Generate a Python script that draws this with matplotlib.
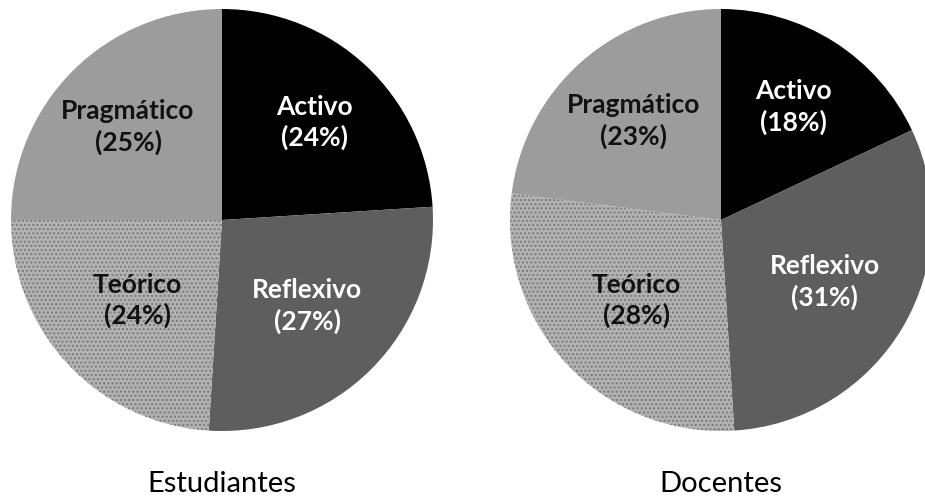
import numpy as np
import matplotlib
matplotlib.use('Agg')
import matplotlib.pyplot as plt

categories = ['Activo', 'Reflexivo', 'Teórico', 'Pragmático']
estudiantes = [24, 27, 24, 25]
docentes = [18, 31, 28, 23]
titles = ['Estudiantes', 'Docentes']

colors = ['#000000', '#5e5e5e', '#b2b2b2', '#9c9c9c']
text_colors = ['white', 'white', '#111111', '#111111']
label_r = [0.64, 0.57, 0.55, 0.63]

W, H = 925, 502
fig = plt.figure(figsize=(W / 100, H / 100), dpi=100)

def draw_pie(cx, cy, r, values, title):
    ax = fig.add_axes([(cx - r) / W, 1 - (cy + r) / H, 2 * r / W, 2 * r / H])
    wedges, _ = ax.pie(values, colors=colors, startangle=90, counterclock=False,
                       radius=1, wedgeprops=dict(linewidth=0))
    # light speckle on the "Teórico" slice, like the scanned halftone
    wedges[2].set_hatch('....')
    wedges[2].set_edgecolor('#7a7a7a')
    for i, w in enumerate(wedges):
        ang = np.deg2rad((w.theta1 + w.theta2) / 2)
        x, y = label_r[i] * np.cos(ang), label_r[i] * np.sin(ang)
        ax.text(x, y, '{}\n({}%)'.format(categories[i], values[i]),
                ha='center', va='center', color=text_colors[i],
                fontsize=19, fontweight='bold', family='Lato', linespacing=1.3)
    ax.set_xlim(-1, 1)
    ax.set_ylim(-1, 1)
    ax.set_aspect('equal')
    ax.axis('off')
    fig.text(cx / W, 1 - 484 / H, title, ha='center', va='center',
             fontsize=21, family='Lato')

draw_pie(222, 221, 211, estudiantes, titles[0])
draw_pie(721, 221, 211, docentes, titles[1])

fig.savefig('out.png', dpi=100)
